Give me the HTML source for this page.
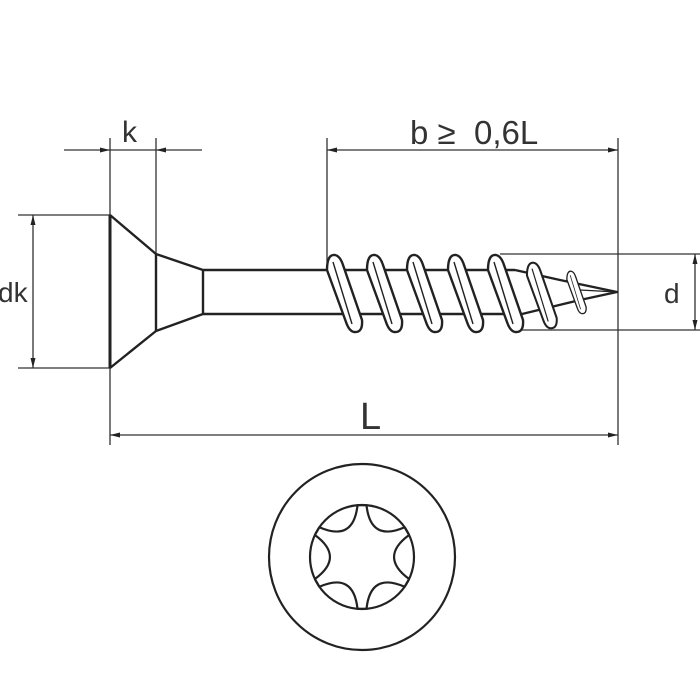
<!DOCTYPE html>
<html><head><style>html,body{margin:0;padding:0;background:#fff}svg{display:block}</style></head>
<body>
<svg width="700" height="700" viewBox="0 0 700 700" xmlns="http://www.w3.org/2000/svg">
<defs>
<marker id="a" viewBox="0 0 10 6" refX="10" refY="3" markerWidth="10" markerHeight="6" markerUnits="userSpaceOnUse" orient="auto-start-reverse"><path d="M0,0.5 L10,3 L0,5.5 Z" fill="#222"/></marker>
<g id="th">
<path d="M327,270 Q327,254 335,255 Q340,256 343,265 L362,320 Q363,333 354,332 Q349,331 346,322 Z"/>
<line x1="333" y1="262" x2="352" y2="324" stroke-width="1.4"/>
</g>
</defs>
<g stroke="#333" stroke-width="1.3" fill="none">
<line x1="110" y1="138" x2="110" y2="445"/>
<line x1="156" y1="138" x2="156" y2="254"/>
<line x1="327" y1="138" x2="327" y2="262"/>
<line x1="618" y1="138" x2="618" y2="445"/>
<line x1="18" y1="215" x2="110" y2="215"/>
<line x1="18" y1="368" x2="110" y2="368"/>
<line x1="500" y1="254" x2="700" y2="254"/>
<line x1="520" y1="330" x2="700" y2="330"/>
<line x1="64" y1="150" x2="110" y2="150" marker-end="url(#a)"/>
<line x1="202" y1="150" x2="156" y2="150" marker-end="url(#a)"/>
<line x1="110" y1="150" x2="156" y2="150"/>
<line x1="33" y1="215" x2="33" y2="368" marker-start="url(#a)" marker-end="url(#a)"/>
<line x1="327" y1="150" x2="618" y2="150" marker-start="url(#a)" marker-end="url(#a)"/>
<line x1="110" y1="435" x2="618" y2="435" marker-start="url(#a)" marker-end="url(#a)"/>
<line x1="695" y1="254" x2="695" y2="330" marker-start="url(#a)" marker-end="url(#a)"/>
</g>
<g stroke="#222" stroke-width="2.4" fill="none" stroke-linejoin="round">
<line x1="110" y1="215" x2="110" y2="368" stroke-width="3"/>
<polyline points="110,215 156,254 203,270 327,270"/>
<polyline points="110,368 156,331 203,314 340,314"/>
<line x1="156" y1="254" x2="156" y2="331"/>
<line x1="203" y1="270" x2="203" y2="314"/>
<line x1="327" y1="270" x2="515" y2="270"/>
<line x1="340" y1="314" x2="522" y2="314"/>
<polyline points="515,270 560,280 617,292 580,300 522,314"/>
</g>
<g stroke="#222" stroke-width="2.4" fill="#fff" stroke-linejoin="round">
<use href="#th"/>
<use href="#th" transform="translate(40,0)"/>
<use href="#th" transform="translate(80,0)"/>
<use href="#th" transform="translate(121,0)"/>
<use href="#th" transform="translate(161,0)"/>
<use href="#th" transform="matrix(0.85,0,0,0.85,249,46)"/>
<use href="#th" transform="matrix(0.55,0,0,0.55,387,131)"/>
</g>
<line x1="580" y1="290" x2="617" y2="292" stroke="#222" stroke-width="1.3"/>
<g stroke="#222" stroke-width="2.2" fill="none" stroke-linejoin="round">
<circle cx="362" cy="557" r="93"/>
<circle cx="362" cy="557" r="52"/>
<path d="M366.5,608.8 Q370.5,571.7 404.6,586.8 L409.1,579 Q379,557 409.1,535 L404.6,527.2 Q370.5,542.3 366.5,505.2 L357.5,505.2 Q353.5,542.3 319.4,527.2 L314.9,535 Q345,557 314.9,579 L319.4,586.8 Q353.5,571.7 357.5,608.8 Z"/>
</g>
<g font-family="Liberation Sans, sans-serif" fill="#333">
<text x="122" y="142" font-size="30">k</text>
<text x="-2" y="302" font-size="28">dk</text>
<text x="410" y="144" font-size="33" xml:space="preserve">b ≥  0,6L</text>
<text x="360" y="429" font-size="38">L</text>
<text x="664" y="303" font-size="28">d</text>
</g>
</svg>
</body></html>
